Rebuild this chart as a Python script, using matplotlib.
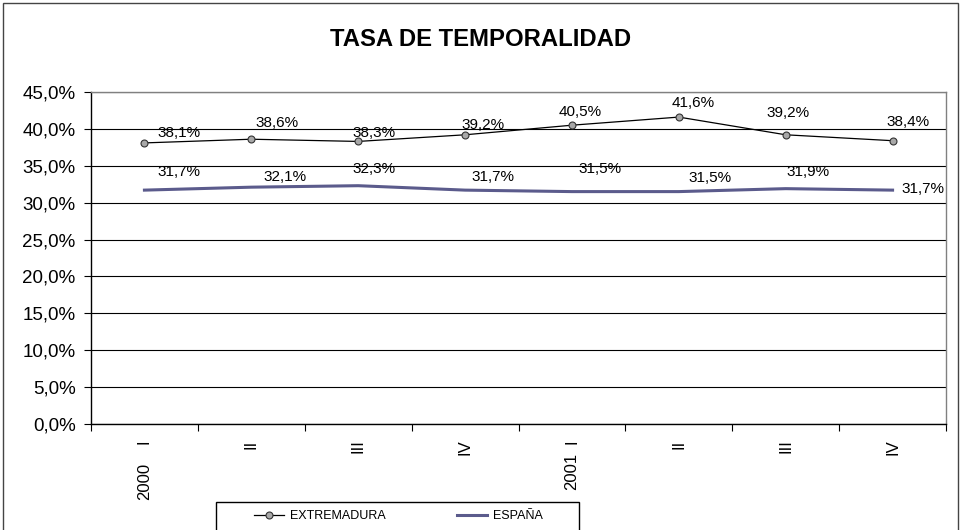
import matplotlib
matplotlib.use("Agg")
import matplotlib.pyplot as plt
import matplotlib.transforms as mtransforms
from matplotlib.patches import Rectangle
from matplotlib.ticker import FuncFormatter, MultipleLocator

plt.rcParams['font.family'] = ['Liberation Sans', 'DejaVu Sans']

# ---- data ----
quarters = ['I', 'II', 'III', 'IV', 'I', 'II', 'III', 'IV']
years = ['2000', '2001']
year_index = [0, 4]
extremadura = [38.1, 38.6, 38.3, 39.2, 40.5, 41.6, 39.2, 38.4]
espana = [31.7, 32.1, 32.3, 31.7, 31.5, 31.5, 31.9, 31.7]
series_names = ['EXTREMADURA', 'ESPAÑA']
title = 'TASA DE TEMPORALIDAD'

# label offsets in pixels (dx, dy up) - layout only
ext_off = [(35, 10), (26, 16), (16, 8), (18, 10), (8, 13), (14, 14), (2, 22), (15, 19)]
esp_off = [(35, 18), (34, 10), (16, 17), (28, 13), (28, 23), (31, 14), (22, 17), (30, 1)]
year_y_px = [481, 471]

W, H = 961, 530
fig = plt.figure(figsize=(W / 100, H / 100), dpi=100)
fig.patch.set_facecolor('white')

def fx(px):
    return px / W

def fy(py):
    return 1 - py / H

# outer frame
fig.add_artist(Rectangle((fx(3), fy(540)), fx(958) - fx(3), fy(3) - fy(540),
                         transform=fig.transFigure, fill=False,
                         edgecolor='#444444', linewidth=1.0))

left, right, top, bottom = 91, 946, 92, 424
ax = fig.add_axes([fx(left), fy(bottom), fx(right) - fx(left), fy(top) - fy(bottom)])

x = list(range(len(quarters)))
ax.set_xlim(-0.5, len(quarters) - 0.5)
ax.set_ylim(0, 45)

ax.yaxis.set_major_locator(MultipleLocator(5))
ax.yaxis.set_major_formatter(FuncFormatter(lambda v, p: f"{v:.1f}%".replace('.', ',')))
ax.grid(axis='y', color='black', linewidth=0.8)
ax.set_axisbelow(True)

for s in ['left', 'bottom']:
    ax.spines[s].set_color('black')
    ax.spines[s].set_linewidth(1.0)
for s in ['top', 'right']:
    ax.spines[s].set_color('#808080')
    ax.spines[s].set_linewidth(1.0)

ax.tick_params(axis='y', direction='out', length=5, width=0.8, labelsize=13.5, pad=6)
ax.set_xticks(x)
ax.set_xticklabels(quarters, rotation=90, fontsize=12)
ax.tick_params(axis='x', which='major', length=0, pad=11)
ax.set_xticks([i - 0.5 for i in range(len(quarters) + 1)], minor=True)
ax.tick_params(axis='x', which='minor', direction='out', length=5, width=0.8)

l1, = ax.plot(x, extremadura, color='black', linewidth=0.9, marker='o',
              markersize=5, markerfacecolor='#a8a8a8', markeredgecolor='#333333',
              markeredgewidth=0.8, label=series_names[0], zorder=3)
l2, = ax.plot(x, espana, color='#5b5b8c', linewidth=2.2, label=series_names[1], zorder=3)

for i, v in enumerate(extremadura):
    dx, dy = ext_off[i]
    ax.annotate(f"{v:.1f}%".replace('.', ','), (x[i], v), xytext=(dx * 0.72, dy * 0.72),
                textcoords='offset points', ha='center', va='center', fontsize=11)
for i, v in enumerate(espana):
    dx, dy = esp_off[i]
    ax.annotate(f"{v:.1f}%".replace('.', ','), (x[i], v), xytext=(dx * 0.72, dy * 0.72),
                textcoords='offset points', ha='center', va='center', fontsize=11)

# year labels
year_tr = mtransforms.blended_transform_factory(ax.transData, fig.transFigure)
for k, idx in enumerate(year_index):
    ax.text(idx, fy(year_y_px[k]), years[k], rotation=90, ha='center', va='center',
            fontsize=12, transform=year_tr, clip_on=False)

fig.text(0.5, fy(40), title, ha='center', va='center', fontsize=17.2, fontweight='bold')

# legend
fig.add_artist(Rectangle((fx(216), fy(531)), fx(579) - fx(216), fy(502) - fy(531),
                         transform=fig.transFigure, fill=False,
                         edgecolor='black', linewidth=1.0))
fig.legend(handles=[l1, l2], loc='center left', bbox_to_anchor=(fx(254), fy(516)),
           ncol=2, frameon=False, fontsize=9, handlelength=2.4, handletextpad=0.5,
           columnspacing=5.7, borderpad=0, borderaxespad=0)

fig.savefig('out.png', dpi=100, facecolor='white')
